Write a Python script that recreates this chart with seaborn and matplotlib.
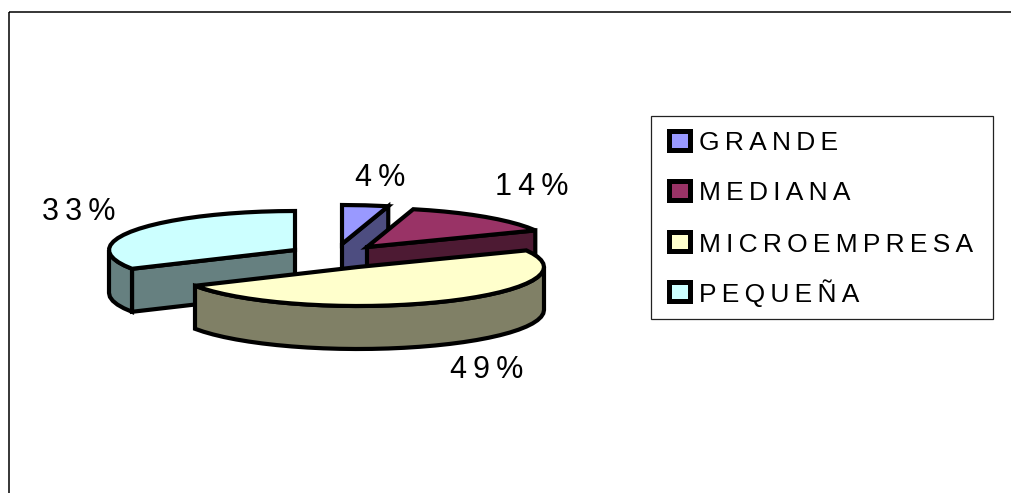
import numpy as np
import matplotlib
matplotlib.use('Agg')
import matplotlib.pyplot as plt
from matplotlib.patches import Polygon, Rectangle
import seaborn as sns

# Data
categories = ['GRANDE', 'MEDIANA', 'MICROEMPRESA', 'PEQUEÑA']
shares = [4, 14, 49, 33]
slice_colors = ['#9999FF', '#993366', '#FFFFCC', '#CCFFFF']

# Pie layout in pixels
center = (335, 256)
rx, ry = 186, 39
depth = 43
offsets = [(7, -12), (32, -9), (23, 11), (-40, -6)]
label_pos = [(380, 178), (532, 187), (487, 370), (79, 212)]
draw_order = [3, 0, 1, 2]

# Legend layout in pixels
legend_box = (651, 116, 342, 203)
legend_tops = [129, 179, 230, 280]
legend_baselines = [150, 200, 252, 302]

THIN = '\u2009'


def rim(cx, cy, a0, a1):
    # clockwise from 12 o'clock, flattened ellipse
    n = max(2, int((a1 - a0) / 5) + 1)
    t = np.radians(np.linspace(a0, a1, n))
    return np.column_stack([cx + rx * np.sin(t), cy - ry * np.cos(t)])


def face(ax, pts, color, z):
    ax.add_patch(Polygon(pts, closed=True, facecolor=color, edgecolor='black',
                         linewidth=3.0, joinstyle='miter', zorder=z))


def draw_slice(ax, i, a0, a1, z):
    cx, cy = center[0] + offsets[i][0], center[1] + offsets[i][1]
    top = matplotlib.colors.to_rgb(slice_colors[i])
    side = tuple(c * 0.5 for c in top)
    drop = np.array([0, depth])
    apex = np.array([cx, cy])

    # cut faces, only the ones turned towards the viewer
    if np.sin(np.radians(a0)) < -1e-6:
        p = rim(cx, cy, a0, a0)[0]
        face(ax, [apex, p, p + drop, apex + drop], side, z)
    if np.sin(np.radians(a1)) > 1e-6:
        p = rim(cx, cy, a1, a1)[0]
        face(ax, [apex, p, p + drop, apex + drop], side, z)

    # outer wall on the front half
    lo, hi = max(a0, 90), min(a1, 270)
    if hi > lo:
        arc = rim(cx, cy, lo, hi)
        face(ax, np.vstack([arc, (arc + drop)[::-1]]), side, z)

    face(ax, np.vstack([apex, rim(cx, cy, a0, a1)]), top, z + 0.5)


def draw_legend(ax):
    x, y, w, h = legend_box
    ax.add_patch(Rectangle((x, y), w, h, facecolor='white', edgecolor='#222222',
                           linewidth=0.9, zorder=8))
    for name, color, top, base in zip(categories, slice_colors, legend_tops, legend_baselines):
        ax.add_patch(Rectangle((669, top + 2), 21, 19, facecolor=color, edgecolor='black',
                               linewidth=3.6, joinstyle='miter', zorder=9))
        ax.text(699, base, THIN.join(name), fontsize=19, color='black',
                ha='left', va='baseline', zorder=9)


def main():
    sns.set_theme(style='white')
    plt.rcParams['font.family'] = ['Liberation Sans', 'DejaVu Sans']

    fig = plt.figure(figsize=(10.11, 4.93), dpi=100)
    ax = fig.add_axes([0, 0, 1, 1])
    ax.set_xlim(0, 1011)
    ax.set_ylim(493, 0)
    ax.axis('off')

    # chart area border, runs off the right and bottom of the image
    ax.add_patch(Rectangle((9, 12), 1040, 520, fill=False, edgecolor='black', linewidth=1.1))

    ends = np.cumsum(shares) / np.sum(shares) * 360
    starts = np.concatenate([[0], ends[:-1]])
    for z, i in enumerate(draw_order):
        draw_slice(ax, i, starts[i], ends[i], 2 + z)

    for share, (x, y) in zip(shares, label_pos):
        ax.text(x, y, THIN.join(f'{share}%'), fontsize=22, color='black',
                ha='center', va='center', zorder=10)

    draw_legend(ax)

    fig.savefig('out.png', dpi=100)


if __name__ == '__main__':
    main()
